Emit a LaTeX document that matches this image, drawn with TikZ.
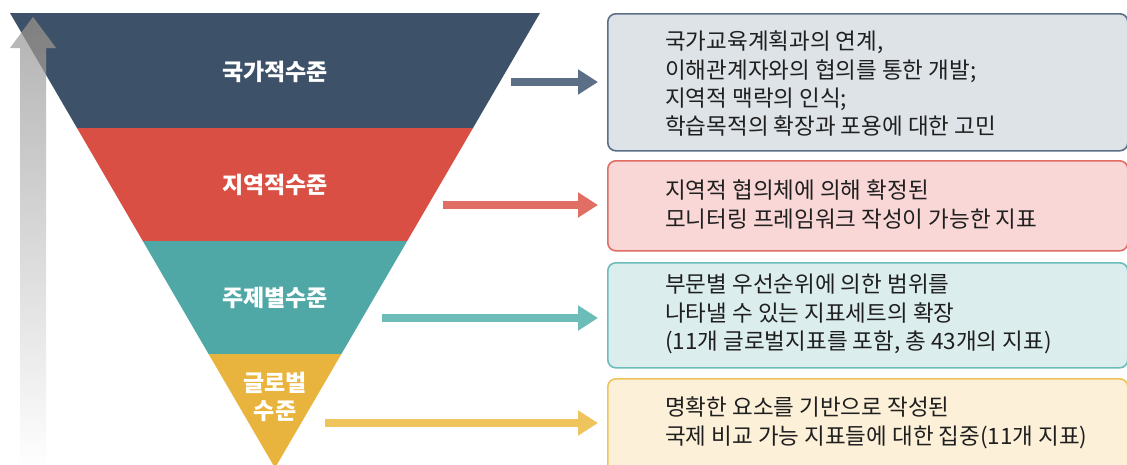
\documentclass[tikz,border=0pt]{standalone}
\usepackage{fontspec}
\setmainfont{Noto Sans CJK KR}
\usetikzlibrary{arrows.meta}
\definecolor{navy}{HTML}{3D5168}
\definecolor{redb}{HTML}{D94F43}
\definecolor{tealb}{HTML}{4FA8A5}
\definecolor{yelb}{HTML}{E9B43D}
\definecolor{navyA}{HTML}{5B6F86}
\definecolor{redA}{HTML}{E06E64}
\definecolor{tealA}{HTML}{6CBDB9}
\definecolor{yelA}{HTML}{F0C45C}
\definecolor{navyF}{HTML}{DEE3E8}
\definecolor{redF}{HTML}{F8D7D6}
\definecolor{tealF}{HTML}{DBEEED}
\definecolor{yelF}{HTML}{FDF0D8}
\tikzset{
  infobox/.style={draw, line width=1.6pt, rounded corners=8pt, minimum width=520pt, anchor=north west, inner sep=0pt},
  infotext/.style={anchor=north west, align=left, font=\fontsize{22.5}{28.3}\selectfont, inner sep=0pt, text=black!88},
  lvl/.style={text=white, font=\bfseries\fontsize{23}{28}\selectfont, align=center},
  flow/.style={line width=8pt, -{Triangle[length=20pt,width=24pt]}, shorten >=9pt}
}
\begin{document}
\begin{tikzpicture}[x=1pt,y=-1pt]
\clip (0,0) rectangle (1127,464);
\fill[white] (0,0) rectangle (1127,464);
% funnel bands
\fill[navy] (10,13) -- (540,13) -- (473,128) -- (77,128) -- cycle;
\fill[redb] (77,128) -- (473,128) -- (407.2,241) -- (142.8,241) -- cycle;
\fill[tealb] (142.8,241) -- (407.2,241) -- (341.4,354) -- (208.6,354) -- cycle;
\fill[yelb] (208.6,354) -- (341.4,354) -- (275,468) -- cycle;
% gray upward arrow
\shade[top color=black!30, bottom color=white] (20,470) -- (20,48) -- (10,48) -- (33,17) -- (56,48) -- (46,48) -- (46,470) -- cycle;
\begin{scope}
\clip (10,13) -- (540,13) -- (275,468) -- cycle;
\fill[black, opacity=0.28] (20,470) -- (20,48) -- (10,48) -- (33,17) -- (56,48) -- (46,48) -- (46,470) -- cycle;
\end{scope}
% level labels
\node[lvl] (l1) at (275,72) {국가적수준};
\node[lvl] (l2) at (275,185) {지역적수준};
\node[lvl] (l3) at (275,298) {주제별수준};
\node[lvl] (l4) at (275,397) {글로벌\\수준};
% boxes
\node[infobox, fill=navyF, draw=navyA, minimum height=137pt] (b1) at (607,13) {};
\node[infobox, fill=redF, draw=redA, minimum height=90pt] (b2) at (607,160) {};
\node[infobox, fill=tealF, draw=tealA, minimum height=105pt] (b3) at (607,262) {};
\node[infobox, fill=yelF, draw=yelA, minimum height=100pt] (b4) at (607,378) {};
% texts
\node[infotext] (t1) at (665,31) {국가교육계획과의 연계,\\이해관계자와의 협의를 통한 개발;\\지역적 맥락의 인식;\\학습목적의 확장과 포용에 대한 고민};
\node[infotext] (t2) at (665,180) {지역적 협의체에 의해 확정된\\모니터링 프레임워크 작성이 가능한 지표};
\node[infotext] (t3) at (665,274) {부문별 우선순위에 의한 범위를\\나타낼 수 있는 지표세트의 확장\\(11개 글로벌지표를 포함, 총 43개의 지표)};
\node[infotext] (t4) at (665,397) {명확한 요소를 기반으로 작성된\\국제 비교 가능 지표들에 대한 집중(11개 지표)};
% arrow start points
\coordinate (s1) at (511,82);
\coordinate (s2) at (443,205);
\coordinate (s3) at (382,318);
\coordinate (s4) at (325,423);
\draw[flow, navyA] (s1) -- (s1 -| b1.west);
\draw[flow, redA] (s2) -- (s2 -| b2.west);
\draw[flow, tealA] (s3) -- (s3 -| b3.west);
\draw[flow, yelA] (s4) -- (s4 -| b4.west);
\end{tikzpicture}
\end{document}
